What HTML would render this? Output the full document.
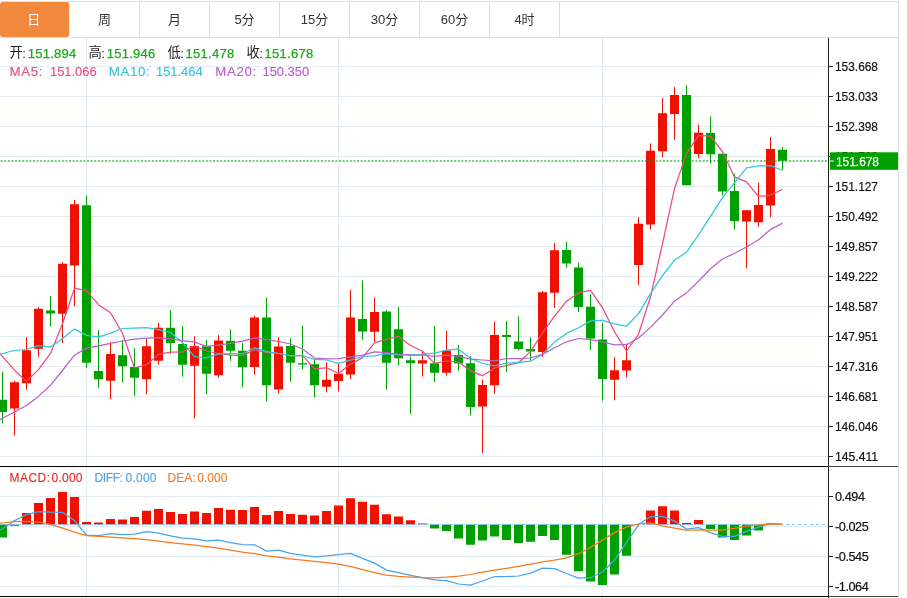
<!DOCTYPE html>
<html lang="zh-CN"><head><meta charset="utf-8"><title>K线图</title>
<style>
html,body{margin:0;padding:0;background:#fff;}
body{width:907px;height:598px;position:relative;overflow:hidden;font-family:"Liberation Sans","Noto Sans CJK SC",sans-serif;}
#tabs{position:absolute;left:0;top:1px;width:898px;height:35px;border-top:1px solid #ddd;border-bottom:1px solid #ddd;border-right:1px solid #ddd;box-sizing:content-box;background:#fff;}
.tab{position:absolute;top:0;width:69px;height:35px;line-height:36px;text-align:center;font-size:13px;color:#333;border-right:1px solid #ddd;}
.tab.on{background:#f0883e;color:#fff;border-radius:3px;border-right-color:#e6e6e6;width:69px;text-indent:-1.4px}
#frame{position:absolute;left:0;top:37px;width:898px;height:561px;border-right:1px solid #ddd;box-sizing:content-box}
.t{position:absolute;white-space:nowrap;font-size:12.8px;line-height:16px;}
.l1{font-size:13.2px} .l1 .c{font-weight:normal;font-size:13.3px;position:relative;top:-1.2px;margin-right:-0.6px}
.v1{letter-spacing:0.27px;font-size:13px;-webkit-text-stroke:0.25px currentColor}
.l2{letter-spacing:0.6px;font-size:13.3px}
.v2{font-size:12.9px}
.l2,.v2,.m{-webkit-text-stroke:0.12px currentColor}
.m{font-size:12px}
</style></head><body>
<div id="tabs"><div class="tab on" style="left:0px">日</div><div class="tab" style="left:70px">周</div><div class="tab" style="left:140px">月</div><div class="tab" style="left:210px">5分</div><div class="tab" style="left:280px">15分</div><div class="tab" style="left:350px">30分</div><div class="tab" style="left:420px">60分</div><div class="tab" style="left:490px">4时</div></div>
<div id="frame"></div>
<svg width="907" height="598" viewBox="0 0 907 598" style="position:absolute;left:0;top:0">
<path d="M0 66.5H828 M0 96.5H828 M0 126.5H828 M0 156.5H828 M0 186.5H828 M0 216.5H828 M0 246.5H828 M0 276.5H828 M0 306.5H828 M0 336.5H828 M0 366.5H828 M0 396.5H828 M0 426.5H828 M0 456.5H828 M0 496.5H828 M0 526.5H828 M0 556.5H828 M0 586.5H828 M86.5 38V596 M338.5 38V596 M602.5 38V596" stroke="#e1ebf3" stroke-width="1" fill="none" shape-rendering="crispEdges"/>
<path d="M14.5 380.8V435.4 M26.5 337.1V389.8 M38.5 307.2V356.9 M62.5 262.3V343.1 M74.5 200V306.3 M110.5 342.1V399.1 M146.5 338.9V394.3 M158.5 322.6V364.7 M194.5 336.4V418.4 M218.5 335.1V377.8 M254.5 315.6V374.8 M278.5 337.2V393.6 M326.5 362.3V392.4 M338.5 364V391.4 M350.5 290V379.1 M374.5 297.6V342.2 M422.5 351.5V376.6 M446.5 331V375.7 M482.5 379.5V453 M494.5 321.5V393.8 M542.5 291V356.9 M554.5 243.1V307.9 M614.5 357.2V400.3 M626.5 343.7V377.2 M638.5 217.2V284.9 M650.5 143.5V229.7 M662.5 98.1V157.3 M674.5 87.1V139.8 M698.5 124.5V158.3 M746.5 210.2V268.3 M758.5 182.7V226.5 M770.5 137V217.2" stroke="#ee1100" stroke-width="1" fill="none"/>
<path d="M2.5 371.7V423.6 M50.5 296.1V326.6 M86.5 195.8V367.7 M98.5 330.1V387.8 M122.5 340.1V382.3 M134.5 348.2V395.8 M170.5 310V353.9 M182.5 326.1V376.7 M206.5 340.1V394.1 M230.5 329.2V360.8 M242.5 343.2V387.3 M266.5 297.6V401.4 M290.5 338.4V381.6 M302.5 325.6V369.5 M314.5 359.8V397.1 M362.5 280.5V339.7 M386.5 310.1V389.9 M398.5 307.1V365.3 M410.5 356.5V413.9 M434.5 326V382 M458.5 345.1V370.7 M470.5 356.2V415.3 M506.5 321V372 M518.5 316.3V350.4 M530.5 337.6V360.2 M566.5 241.9V267.7 M578.5 262.7V311.9 M590.5 294.3V350.1 M602.5 323.3V400.8 M686.5 85.1V185.2 M710.5 116.4V163.6 M722.5 153.8V195.5 M734.5 173.9V229.7 M782.5 147V169.5" stroke="#00a000" stroke-width="1" fill="none"/>
<path d="M10.0 382.3h9V408.4h-9z M22.0 350.2h9V383.3h-9z M34.0 308.8h9V348.7h-9z M58.0 263.8h9V313.8h-9z M70.0 204.3h9V265.5h-9z M106.0 353.9h9V380.8h-9z M142.0 346.2h9V379.3h-9z M154.0 327.8h9V360.7h-9z M190.0 345.9h9V365.7h-9z M214.0 340.4h9V375.2h-9z M250.0 317.6h9V367h-9z M274.0 346.5h9V389.6h-9z M322.0 379.8h9V386.8h-9z M334.0 373.8h9V381.1h-9z M346.0 317.6h9V374.6h-9z M370.0 312.1h9V331.7h-9z M418.0 360.3h9V363.5h-9z M442.0 350.5h9V372.7h-9z M478.0 385h9V406.6h-9z M490.0 335.1h9V385.2h-9z M538.0 292.3h9V352.1h-9z M550.0 250.2h9V292.8h-9z M610.0 370.2h9V379.7h-9z M622.0 360.2h9V370.4h-9z M634.0 223.8h9V265h-9z M646.0 150.8h9V224.5h-9z M658.0 113.2h9V151.3h-9z M670.0 95.1h9V113.9h-9z M694.0 132.7h9V154.1h-9z M742.0 210.2h9V221.5h-9z M754.0 205.1h9V222.2h-9z M766.0 149h9V205.6h-9z" fill="#ee1100"/>
<path d="M-2.0 399.8h9V412h-9z M46.0 310.5h9V313.6h-9z M82.0 205.3h9V362.7h-9z M94.0 371h9V379.3h-9z M118.0 355.2h9V366.2h-9z M130.0 367h9V377.8h-9z M166.0 327.8h9V342.9h-9z M178.0 344.1h9V364.7h-9z M202.0 346.2h9V373.7h-9z M226.0 340.7h9V350.7h-9z M238.0 350.7h9V367.3h-9z M262.0 317.6h9V385.3h-9z M286.0 346h9V362.8h-9z M298.0 363.3h9V364.5h-9z M310.0 364.3h9V385.3h-9z M358.0 319.1h9V331.4h-9z M382.0 311.6h9V362.8h-9z M394.0 329.2h9V358.3h-9z M406.0 360.3h9V363h-9z M430.0 363.3h9V372.7h-9z M454.0 355.1h9V363.4h-9z M466.0 363.2h9V407.1h-9z M502.0 335.1h9V337.1h-9z M514.0 341.6h9V349.1h-9z M526.0 348.9h9V351.6h-9z M562.0 249.9h9V263.5h-9z M574.0 267.5h9V307.1h-9z M586.0 306.8h9V338.5h-9z M598.0 339.4h9V379h-9z M682.0 95.1h9V185.2h-9z M706.0 133h9V154.3h-9z M718.0 153.8h9V191.4h-9z M730.0 190.9h9V220.9h-9z M778.0 149.8h9V160.8h-9z" fill="#00a000"/>
<polyline points="-9.5,342.5 2.5,356.3 14.5,370.2 26.5,381.4 38.5,369.6 50.5,353.4 62.5,323.7 74.5,288.1 86.5,290.6 98.5,304.7 110.5,312.8 122.5,333.3 134.5,368.0 146.5,364.7 158.5,354.4 170.5,352.2 182.5,351.9 194.5,345.5 206.5,351.0 218.5,353.5 230.5,355.1 242.5,355.6 254.5,349.9 266.5,352.3 278.5,353.5 290.5,355.9 302.5,355.3 314.5,368.9 326.5,367.8 338.5,373.2 350.5,364.2 362.5,357.6 374.5,342.9 386.5,339.5 398.5,336.4 410.5,345.5 422.5,351.3 434.5,363.4 446.5,361.0 458.5,362.0 470.5,370.8 482.5,375.7 494.5,368.2 506.5,365.5 518.5,362.7 530.5,351.6 542.5,333.0 554.5,316.1 566.5,301.3 578.5,292.9 590.5,290.3 602.5,307.7 614.5,331.7 626.5,351.0 638.5,334.3 650.5,296.8 662.5,243.6 674.5,188.6 686.5,153.6 698.5,135.4 710.5,136.1 722.5,151.7 734.5,176.9 746.5,181.9 758.5,196.4 770.5,195.3 782.5,189.2" fill="none" stroke="#ea4c7f" stroke-width="1.25" stroke-linejoin="round"/>
<polyline points="-9.5,356.0 2.5,353.5 14.5,350.5 26.5,349.5 38.5,345.7 50.5,347.1 62.5,338.6 74.5,329.1 86.5,335.4 98.5,337.1 110.5,333.1 122.5,328.5 134.5,328.1 146.5,327.7 158.5,329.6 170.5,332.5 182.5,342.6 194.5,356.7 206.5,357.8 218.5,353.9 230.5,353.6 242.5,353.7 254.5,347.7 266.5,351.6 278.5,353.5 290.5,355.5 302.5,355.5 314.5,359.4 326.5,360.0 338.5,363.4 350.5,360.1 362.5,356.5 374.5,355.9 386.5,353.7 398.5,354.8 410.5,354.9 422.5,354.4 434.5,353.2 446.5,350.2 458.5,349.2 470.5,358.2 482.5,363.5 494.5,365.8 506.5,363.2 518.5,362.3 530.5,361.2 542.5,354.4 554.5,342.1 566.5,333.4 578.5,327.8 590.5,320.9 602.5,320.4 614.5,323.9 626.5,326.2 638.5,313.6 650.5,293.6 662.5,275.6 674.5,260.1 686.5,252.3 698.5,234.9 710.5,216.4 722.5,197.7 734.5,182.8 746.5,167.8 758.5,165.9 770.5,165.7 782.5,170.5" fill="none" stroke="#33c4de" stroke-width="1.25" stroke-linejoin="round"/>
<polyline points="-9.5,424.0 2.5,418.3 14.5,412.0 26.5,405.5 38.5,396.4 50.5,385.2 62.5,370.5 74.5,355.2 86.5,348.1 98.5,345.9 110.5,343.3 122.5,341.0 134.5,339.1 146.5,338.1 158.5,337.6 170.5,338.9 182.5,340.6 194.5,342.1 206.5,346.4 218.5,345.1 230.5,343.4 242.5,341.1 254.5,337.9 266.5,339.6 278.5,341.5 290.5,344.0 302.5,349.0 314.5,358.1 326.5,358.9 338.5,358.7 350.5,356.8 362.5,355.1 374.5,351.8 386.5,352.6 398.5,354.2 410.5,355.2 422.5,355.0 434.5,356.3 446.5,355.1 458.5,356.3 470.5,359.1 482.5,360.0 494.5,360.9 506.5,358.5 518.5,358.6 530.5,358.0 542.5,354.4 554.5,347.7 566.5,341.8 578.5,338.5 590.5,339.6 602.5,341.9 614.5,344.8 626.5,344.7 638.5,338.0 650.5,327.4 662.5,315.0 674.5,301.1 686.5,292.9 698.5,281.3 710.5,268.7 722.5,259.0 734.5,253.3 746.5,247.0 758.5,239.8 770.5,229.6 782.5,223.1" fill="none" stroke="#b85fcc" stroke-width="1.25" stroke-linejoin="round"/>
<path d="M0.6 161H829" stroke="#00a000" stroke-opacity="0.55" stroke-width="2" stroke-dasharray="2 1.6" fill="none"/>
<path d="M22.0 513.1h9V524.5h-9z M34.0 503.1h9V524.5h-9z M46.0 498.1h9V524.5h-9z M58.0 492.1h9V524.5h-9z M70.0 497.1h9V524.5h-9z M82.0 521.9h9V524.5h-9z M94.0 522.4h9V524.5h-9z M106.0 518.9h9V524.5h-9z M118.0 519.4h9V524.5h-9z M130.0 516.9h9V524.5h-9z M142.0 510.8h9V524.5h-9z M154.0 509.1h9V524.5h-9z M166.0 512.1h9V524.5h-9z M178.0 514.1h9V524.5h-9z M190.0 511.6h9V524.5h-9z M202.0 512.9h9V524.5h-9z M214.0 508.1h9V524.5h-9z M226.0 509.8h9V524.5h-9z M238.0 510.1h9V524.5h-9z M250.0 507.1h9V524.5h-9z M262.0 515.1h9V524.5h-9z M274.0 511.1h9V524.5h-9z M286.0 514.1h9V524.5h-9z M298.0 514.8h9V524.5h-9z M310.0 515.6h9V524.5h-9z M322.0 511.1h9V524.5h-9z M334.0 505.6h9V524.5h-9z M346.0 498.3h9V524.5h-9z M358.0 501.8h9V524.5h-9z M370.0 504.8h9V524.5h-9z M382.0 514.3h9V524.5h-9z M394.0 516.6h9V524.5h-9z M406.0 520.3h9V524.5h-9z M418.0 523.6h9V524.5h-9z M646.0 510.6h9V524.5h-9z M658.0 506.3h9V524.5h-9z M670.0 510.6h9V524.5h-9z M682.0 522.9h9V524.5h-9z M694.0 520.1h9V524.5h-9z M766.0 523.4h9V524.5h-9z" fill="#ee1100"/>
<path d="M-2.0 524.5h9V537.6h-9z M10.0 524.5h9V525.8h-9z M430.0 524.5h9V528.4h-9z M442.0 524.5h9V530.9h-9z M454.0 524.5h9V538.6h-9z M466.0 524.5h9V544.7h-9z M478.0 524.5h9V540.6h-9z M490.0 524.5h9V536.6h-9z M502.0 524.5h9V540.1h-9z M514.0 524.5h9V542.9h-9z M526.0 524.5h9V541.7h-9z M538.0 524.5h9V536.1h-9z M550.0 524.5h9V540.1h-9z M562.0 524.5h9V554.7h-9z M574.0 524.5h9V571.2h-9z M586.0 524.5h9V581.5h-9z M598.0 524.5h9V585h-9z M610.0 524.5h9V574.5h-9z M622.0 524.5h9V555.7h-9z M706.0 524.5h9V528.9h-9z M718.0 524.5h9V537.6h-9z M730.0 524.5h9V540.1h-9z M742.0 524.5h9V535.6h-9z M754.0 524.5h9V530.4h-9z" fill="#00a000"/>
<path d="M0 524.5H828" stroke="#7fc4ee" stroke-width="1" stroke-dasharray="3 3" fill="none"/>
<polyline points="-9.5,533.0 2.5,529.0 14.5,520.6 26.5,514.6 38.5,511.6 50.5,512.1 62.5,512.3 74.5,520.6 86.5,535.1 98.5,535.6 110.5,533.6 122.5,534.6 134.5,534.1 146.5,531.6 158.5,533.1 170.5,535.9 182.5,538.1 194.5,538.9 206.5,540.9 218.5,540.1 230.5,542.6 242.5,544.6 254.5,544.8 266.5,551.1 278.5,550.1 290.5,553.4 302.5,555.1 314.5,556.9 326.5,555.9 338.5,554.6 350.5,553.4 362.5,558.4 374.5,563.1 386.5,570.1 398.5,572.6 410.5,575.4 422.5,577.6 434.5,579.8 446.5,580.7 458.5,584.0 470.5,585.2 482.5,581.0 494.5,576.5 506.5,576.7 518.5,576.0 530.5,573.2 542.5,568.2 554.5,568.7 566.5,573.5 578.5,578.2 590.5,577.7 602.5,572.0 614.5,560.2 626.5,542.7 638.5,524.8 650.5,516.5 662.5,516.4 674.5,521.1 686.5,529.1 698.5,527.6 710.5,532.6 722.5,536.4 734.5,536.4 746.5,531.4 758.5,527.1 770.5,523.4 782.5,524.4" fill="none" stroke="#4aa3e8" stroke-width="1.25" stroke-linejoin="round"/>
<polyline points="-9.5,523.6 2.5,523.0 14.5,521.6 26.5,521.4 38.5,522.1 50.5,524.4 62.5,528.1 74.5,532.1 86.5,535.6 98.5,536.4 110.5,537.1 122.5,537.9 134.5,538.6 146.5,539.6 158.5,541.1 170.5,542.6 182.5,543.9 194.5,545.1 206.5,546.6 218.5,548.1 230.5,550.1 242.5,552.1 254.5,553.6 266.5,555.9 278.5,557.1 290.5,558.9 302.5,560.1 314.5,561.4 326.5,562.6 338.5,564.1 350.5,566.4 362.5,569.6 374.5,572.6 386.5,575.1 398.5,576.4 410.5,577.1 422.5,577.6 434.5,577.8 446.5,577.2 458.5,576.2 470.5,574.5 482.5,572.2 494.5,570.2 506.5,568.4 518.5,566.4 530.5,564.2 542.5,561.9 554.5,560.2 566.5,557.9 578.5,553.7 590.5,547.4 602.5,540.1 614.5,532.6 626.5,527.1 638.5,524.0 650.5,522.9 662.5,525.9 674.5,528.1 686.5,530.1 698.5,530.1 710.5,530.1 722.5,530.1 734.5,528.4 746.5,526.1 758.5,525.1 770.5,523.9 782.5,524.4" fill="none" stroke="#f6791f" stroke-width="1.25" stroke-linejoin="round"/>
<path d="M828 466.5H898 M828 596.5H898" stroke="#444" stroke-width="1" fill="none" shape-rendering="crispEdges"/>
<path d="M0 466.5H828.5 M0 596.5H829" stroke="#000" stroke-width="1" fill="none" shape-rendering="crispEdges"/>
<path d="M828.5 38V598" stroke="#222" stroke-width="1" fill="none" shape-rendering="crispEdges"/>
<path d="M829 66.5h4 M829 96.5h4 M829 126.5h4 M829 156.5h4 M829 186.5h4 M829 216.5h4 M829 246.5h4 M829 276.5h4 M829 306.5h4 M829 336.5h4 M829 366.5h4 M829 396.5h4 M829 426.5h4 M829 456.5h4 M829 496.5h4 M829 526.5h4 M829 556.5h4 M829 586.5h4" stroke="#222" stroke-width="1" fill="none" shape-rendering="crispEdges"/>
<g font-family="'Liberation Sans',sans-serif" font-size="12.7" fill="#111" stroke="#111" stroke-width="0.2">
<text x="835" y="70.6" textLength="43" lengthAdjust="spacingAndGlyphs">153.668</text>
<text x="835" y="100.6" textLength="43" lengthAdjust="spacingAndGlyphs">153.033</text>
<text x="835" y="130.6" textLength="43" lengthAdjust="spacingAndGlyphs">152.398</text>
<text x="835" y="160.6" textLength="43" lengthAdjust="spacingAndGlyphs">151.762</text>
<text x="835" y="190.6" textLength="43" lengthAdjust="spacingAndGlyphs">151.127</text>
<text x="835" y="220.6" textLength="43" lengthAdjust="spacingAndGlyphs">150.492</text>
<text x="835" y="250.6" textLength="43" lengthAdjust="spacingAndGlyphs">149.857</text>
<text x="835" y="280.6" textLength="43" lengthAdjust="spacingAndGlyphs">149.222</text>
<text x="835" y="310.6" textLength="43" lengthAdjust="spacingAndGlyphs">148.587</text>
<text x="835" y="340.6" textLength="43" lengthAdjust="spacingAndGlyphs">147.951</text>
<text x="835" y="370.6" textLength="43" lengthAdjust="spacingAndGlyphs">147.316</text>
<text x="835" y="400.6" textLength="43" lengthAdjust="spacingAndGlyphs">146.681</text>
<text x="835" y="430.6" textLength="43" lengthAdjust="spacingAndGlyphs">146.046</text>
<text x="835" y="460.6" textLength="43" lengthAdjust="spacingAndGlyphs">145.411</text>
<text x="835" y="500.6" letter-spacing="-0.45">0.494</text>
<text x="835" y="530.6" letter-spacing="-0.45">-0.025</text>
<text x="835" y="560.6" letter-spacing="-0.45">-0.545</text>
<text x="835" y="590.6" letter-spacing="-0.45">-1.064</text>
</g>
<rect x="830" y="152.3" width="68" height="17.5" fill="#00a000"/>
<path d="M830 161h4" stroke="#fff" stroke-width="1"/>
<text x="836" y="165.6" font-family="'Liberation Sans',sans-serif" font-size="12.7" fill="#fff" stroke="#fff" stroke-width="0.25" textLength="43" lengthAdjust="spacingAndGlyphs">151.678</text>
</svg>
<span class="t l1" style="left:9.5px;top:45.9px;color:#222;"><b class="c">开</b>:</span><span class="t v1" style="left:27.7px;top:45.9px;color:#1aaa1a;">151.894</span><span class="t l1" style="left:88.5px;top:45.9px;color:#222;"><b class="c">高</b>:</span><span class="t v1" style="left:106.7px;top:45.9px;color:#1aaa1a;">151.946</span><span class="t l1" style="left:167.5px;top:45.9px;color:#222;"><b class="c">低</b>:</span><span class="t v1" style="left:185.6px;top:45.9px;color:#1aaa1a;">151.478</span><span class="t l1" style="left:246.5px;top:45.9px;color:#222;"><b class="c">收</b>:</span><span class="t v1" style="left:264.5px;top:45.9px;color:#1aaa1a;">151.678</span><span class="t l2" style="left:9.5px;top:64.3px;color:#ea4c7f;">MA5:</span><span class="t v2" style="left:50px;top:64.3px;color:#ea4c7f;">151.066</span><span class="t l2" style="left:108.8px;top:64.3px;color:#33c4de;">MA10:</span><span class="t v2" style="left:156px;top:64.3px;color:#33c4de;">151.464</span><span class="t l2" style="left:215.3px;top:64.3px;color:#b85fcc;">MA20:</span><span class="t v2" style="left:262.5px;top:64.3px;color:#b85fcc;">150.350</span><span class="t m" style="left:9.5px;top:470px;color:#e8281e;letter-spacing:0.45px">MACD:</span><span class="t m" style="left:51.5px;top:470px;color:#e8281e;letter-spacing:0.25px">0.000</span><span class="t m" style="left:94.5px;top:470px;color:#4aa3e8;letter-spacing:-0.4px">DIFF:</span><span class="t m" style="left:125.5px;top:470px;color:#4aa3e8;letter-spacing:0.25px">0.000</span><span class="t m" style="left:167.5px;top:470px;color:#f6791f;">DEA:</span><span class="t m" style="left:197.3px;top:470px;color:#f6791f;">0.000</span>
</body></html>
